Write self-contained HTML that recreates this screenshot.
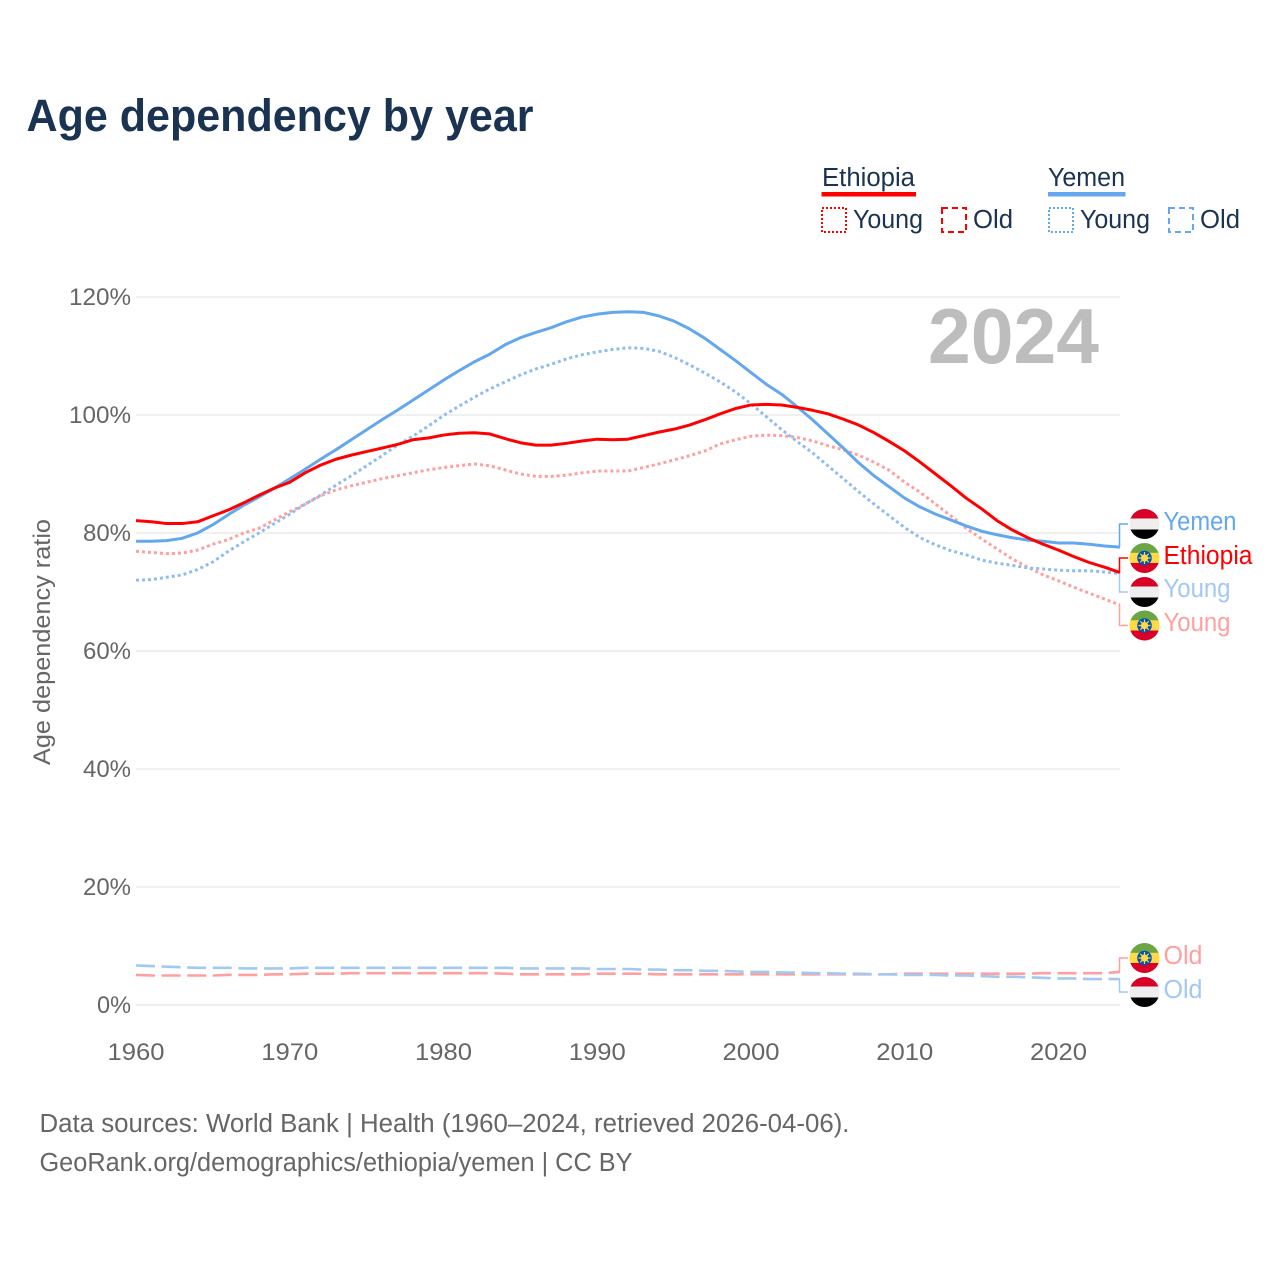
<!DOCTYPE html>
<html lang="en">
<head>
<meta charset="utf-8">
<title>Age dependency by year</title>
<style>
html,body{margin:0;padding:0;background:#fff;width:1280px;height:1280px;overflow:hidden}
svg{display:block}
text{font-family:"Liberation Sans",sans-serif}
</style>
</head>
<body>
<svg id="chart" xmlns="http://www.w3.org/2000/svg" width="1280" height="1280" viewBox="0 0 1280 1280">
  <defs>
    <clipPath id="flag-clip"><circle cx="0" cy="0" r="15"/></clipPath>
    <g id="flag-yemen">
      <g clip-path="url(#flag-clip)">
        <rect x="-15" y="-15" width="30" height="10" fill="#d80027"/>
        <rect x="-15" y="-5.500" width="30" height="11" fill="#eeeeee"/>
        <rect x="-15" y="5.500" width="30" height="10" fill="#000000"/>
      </g>
    </g>
    <g id="flag-ethiopia">
      <g clip-path="url(#flag-clip)">
        <rect x="-15" y="-15" width="30" height="10" fill="#6da544"/>
        <rect x="-15" y="-5.200" width="30" height="10.400" fill="#ffda44"/>
        <rect x="-15" y="5" width="30" height="10" fill="#d80027"/>
        <circle r="7.300" fill="#0052b4"/>
        <circle r="3.600" fill="#ffda44"/>
        <path d="M0-6V6M-6 0H6M-4.200-4.200L4.200 4.200M-4.200 4.200L4.200-4.200" stroke="#ffda44" stroke-width="1.200"/>
      </g>
    </g>
  </defs>

  <text x="26.500" y="131" font-size="45" font-weight="700" fill="#1a3352" textLength="507" lengthAdjust="spacingAndGlyphs">Age dependency by year</text>

  <g fill="#1a3352" font-size="25.500">
    <text x="822" y="186" textLength="93" lengthAdjust="spacingAndGlyphs">Ethiopia</text>
    <rect x="821.500" y="192" width="94.500" height="4.500" fill="#ff0000"/>
    <text x="1048" y="186" textLength="77" lengthAdjust="spacingAndGlyphs">Yemen</text>
    <rect x="1048" y="192" width="77.500" height="4.500" fill="#63a7ee"/>
    <rect x="822" y="208" width="24" height="24" fill="none" stroke="#ff0000" stroke-width="2" stroke-dasharray="2 2"/>
    <text x="853" y="228" textLength="70" lengthAdjust="spacingAndGlyphs">Young</text>
    <rect x="942" y="208" width="24" height="24" fill="none" stroke="#ff0000" stroke-width="2" stroke-dasharray="6 4"/>
    <text x="973" y="228" textLength="40" lengthAdjust="spacingAndGlyphs">Old</text>
    <rect x="1049" y="208" width="24" height="24" fill="none" stroke="#63a7ee" stroke-width="2" stroke-dasharray="2 2"/>
    <text x="1080" y="228" textLength="70" lengthAdjust="spacingAndGlyphs">Young</text>
    <rect x="1169" y="208" width="24" height="24" fill="none" stroke="#63a7ee" stroke-width="2" stroke-dasharray="6 4"/>
    <text x="1200" y="228" textLength="40" lengthAdjust="spacingAndGlyphs">Old</text>
  </g>

  <g id="grid"></g>
  <g id="yticks"></g>
  <g id="xticks"></g>

  <text transform="translate(50 642) rotate(-90)" text-anchor="middle" font-size="24" fill="#666666" textLength="246" lengthAdjust="spacingAndGlyphs">Age dependency ratio</text>

  <text x="928" y="363" font-size="78" font-weight="700" fill="#bdbdbd" textLength="171" lengthAdjust="spacingAndGlyphs">2024</text>

  <g id="series"></g>
  <g id="connectors"></g>

  <g font-size="25.500">
    <use href="#flag-yemen" x="1144.500" y="524"/>
    <text x="1163.500" y="530" fill="#63a7ee" textLength="73" lengthAdjust="spacingAndGlyphs">Yemen</text>
    <use href="#flag-ethiopia" x="1144.500" y="558"/>
    <text x="1163.500" y="564" fill="#ff0000" textLength="89" lengthAdjust="spacingAndGlyphs">Ethiopia</text>
    <use href="#flag-yemen" x="1144.500" y="592"/>
    <text x="1163.500" y="597" fill="#a1c9f4" textLength="67" lengthAdjust="spacingAndGlyphs">Young</text>
    <use href="#flag-ethiopia" x="1144.500" y="625.500"/>
    <text x="1163.500" y="631" fill="#ff9f9f" textLength="67" lengthAdjust="spacingAndGlyphs">Young</text>
    <use href="#flag-ethiopia" x="1144.500" y="958"/>
    <text x="1163.500" y="964" fill="#ff9f9f" textLength="39" lengthAdjust="spacingAndGlyphs">Old</text>
    <use href="#flag-yemen" x="1144.500" y="992"/>
    <text x="1163.500" y="998" fill="#a1c9f4" textLength="39" lengthAdjust="spacingAndGlyphs">Old</text>
  </g>

  <g font-size="25.500" fill="#666666">
    <text x="39.500" y="1132" textLength="810" lengthAdjust="spacingAndGlyphs">Data sources: World Bank | Health (1960–2024, retrieved 2026-04-06).</text>
    <text x="39.500" y="1171" textLength="593" lengthAdjust="spacingAndGlyphs">GeoRank.org/demographics/ethiopia/yemen | CC BY</text>
  </g>
</svg>

<script>
const firstYear = 1960;
const xTickYears = [1960, 1970, 1980, 1990, 2000, 2010, 2020];
const yTickValues = [0, 20, 40, 60, 80, 100, 120];

const ethiopiaTotal = [82.1,81.9,81.6,81.6,81.9,82.9,83.9,85.1,86.4,87.6,88.6,90.2,91.5,92.5,93.2,93.8,94.4,95.0,95.8,96.1,96.6,96.9,97.0,96.8,96.0,95.3,94.9,94.9,95.2,95.6,95.9,95.8,95.9,96.5,97.1,97.6,98.3,99.2,100.2,101.1,101.7,101.8,101.7,101.3,100.8,100.2,99.3,98.3,97.0,95.5,93.9,92.0,90.0,88.0,85.9,84.1,82.1,80.5,79.2,78.1,77.1,76.0,75.0,74.2,73.3];
const yemenTotal = [78.6,78.6,78.7,79.1,80.0,81.4,83.1,84.7,86.1,87.6,89.2,90.8,92.5,94.1,95.8,97.5,99.2,100.8,102.5,104.2,105.9,107.5,109.0,110.3,111.9,113.1,114.0,114.8,115.8,116.6,117.1,117.4,117.5,117.4,116.8,115.9,114.6,113.0,111.1,109.2,107.2,105.2,103.5,101.4,99.2,96.8,94.4,91.9,89.7,87.8,85.9,84.4,83.2,82.2,81.2,80.3,79.7,79.2,78.8,78.6,78.3,78.3,78.1,77.8,77.6];
const ethiopiaYoung = [76.9,76.7,76.5,76.6,77.1,78.1,78.9,80.0,80.8,82.2,83.6,84.9,86.3,87.3,88.0,88.6,89.2,89.7,90.2,90.7,91.1,91.4,91.7,91.4,90.7,90.0,89.6,89.6,89.8,90.2,90.5,90.5,90.5,91.1,91.7,92.4,93.1,93.9,95.1,95.8,96.4,96.6,96.5,96.2,95.6,94.8,94.1,93.2,92.0,90.6,88.6,86.9,84.9,82.9,80.8,79.0,77.3,75.6,74.2,72.9,71.9,70.8,69.8,68.8,67.8];
const yemenYoung = [72.0,72.1,72.5,72.9,73.8,75.1,76.9,78.5,80.0,81.6,83.2,84.9,86.4,88.1,89.7,91.4,93.1,94.9,96.4,98.1,99.9,101.5,103.0,104.4,105.6,106.8,107.8,108.6,109.5,110.2,110.7,111.1,111.4,111.3,110.8,109.8,108.5,107.1,105.6,103.9,101.9,99.7,97.5,95.5,93.6,91.4,89.2,87.0,84.9,82.9,80.9,79.2,78.0,77.0,76.3,75.4,74.9,74.5,74.1,73.9,73.7,73.6,73.6,73.4,73.1];
const ethiopiaOld = [5.1,5.0,5.0,5.0,5.0,5.0,5.1,5.1,5.1,5.2,5.2,5.3,5.3,5.3,5.4,5.4,5.4,5.4,5.4,5.4,5.4,5.4,5.4,5.4,5.3,5.2,5.2,5.2,5.2,5.2,5.3,5.3,5.3,5.3,5.2,5.2,5.2,5.2,5.2,5.2,5.2,5.2,5.2,5.2,5.2,5.2,5.2,5.2,5.2,5.2,5.3,5.3,5.3,5.3,5.3,5.3,5.3,5.3,5.3,5.4,5.4,5.4,5.4,5.4,5.6];
const yemenOld = [6.7,6.6,6.5,6.4,6.3,6.3,6.3,6.2,6.2,6.2,6.2,6.3,6.3,6.3,6.3,6.3,6.3,6.3,6.3,6.3,6.3,6.3,6.3,6.3,6.3,6.2,6.2,6.2,6.2,6.2,6.1,6.1,6.1,6.0,6.0,5.9,5.9,5.8,5.8,5.7,5.6,5.6,5.5,5.5,5.4,5.4,5.3,5.3,5.2,5.2,5.1,5.1,5.1,5.0,5.0,4.9,4.8,4.8,4.7,4.6,4.5,4.5,4.4,4.4,4.4];

const NS = 'http://www.w3.org/2000/svg';
const RED = '#ff0000';
const BLUE = '#63a7ee';
const RED_SOFT = '#ff9f9f';
const BLUE_SOFT = '#a1c9f4';
const BLUE_DOTS = '#8fbdf0';

function xScale(year) { return 136 + (year - 1960) * 15.375; }
function yScale(value) { return 1005 - value * 5.9; }

function make(tag, attrs, parentId) {
  const el = document.createElementNS(NS, tag);
  Object.keys(attrs).forEach(function (k) { el.setAttribute(k, attrs[k]); });
  document.getElementById(parentId).appendChild(el);
  return el;
}

yTickValues.forEach(function (v) {
  const line = make('line', { x1: 136, x2: 1120, y1: yScale(v), y2: yScale(v), stroke: '#e8e8e8', 'stroke-width': 1.2 }, 'grid');
  
  
  const str = v + '%';
  const label = make('text', { x: 131, y: yScale(v) + 8, 'text-anchor': 'end', 'font-size': 24, fill: '#666666', textLength: 14 * str.length + 6, lengthAdjust: 'spacingAndGlyphs' }, 'yticks');
  
  
  label.textContent = str;
});

xTickYears.forEach(function (y) {
  const label = make('text', { x: xScale(y), y: 1060, 'text-anchor': 'middle', 'font-size': 24, fill: '#666666', textLength: 57, lengthAdjust: 'spacingAndGlyphs' }, 'xticks');
  
  
  label.textContent = y;
});

function drawLine(values, color, width, dash, name) {
  const d = values.map(function (v, i) {
    return (i ? 'L' : 'M') + xScale(firstYear + i).toFixed(2) + ' ' + yScale(v).toFixed(2);
  }).join('');
  const attrs = { d: d, fill: 'none', stroke: color, 'stroke-width': width, 'stroke-linejoin': 'round' };
  if (dash) { attrs['stroke-dasharray'] = dash; }
  const path = make('path', attrs, 'series');
  
  
}

drawLine(ethiopiaOld, RED_SOFT, 2.6, '19 6.6', 'line-ethiopia-old');
drawLine(yemenOld, BLUE_SOFT, 2.6, '19 6.6', 'line-yemen-old');
drawLine(ethiopiaYoung, RED_SOFT, 3, '3 3', 'line-ethiopia-young');
drawLine(yemenYoung, BLUE_DOTS, 3, '3 3', 'line-yemen-young');
drawLine(yemenTotal, BLUE, 3, null, 'line-yemen-total');
drawLine(ethiopiaTotal, RED, 3, null, 'line-ethiopia-total');

function drawConnector(values, labelY, color, name) {
  const endY = yScale(values[values.length - 1]);
  const c = make('path', { d: 'M1119.500 ' + endY.toFixed(2) + 'V' + labelY + 'H1128', fill: 'none', stroke: color, 'stroke-width': 1.5 }, 'connectors');
  
  
}

drawConnector(yemenTotal, 524, BLUE, 'connector-yemen');
drawConnector(ethiopiaTotal, 558, RED, 'connector-ethiopia');
drawConnector(yemenYoung, 592, BLUE_SOFT, 'connector-yemen-young');
drawConnector(ethiopiaYoung, 625.5, RED_SOFT, 'connector-ethiopia-young');
drawConnector(ethiopiaOld, 958, RED_SOFT, 'connector-ethiopia-old');
drawConnector(yemenOld, 992, BLUE_SOFT, 'connector-yemen-old');
</script>
</body>
</html>
